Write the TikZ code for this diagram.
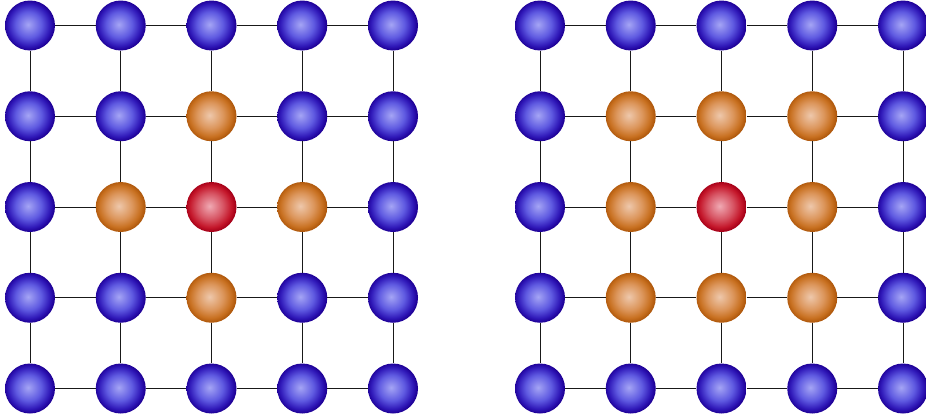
\documentclass[tikz,border=0pt]{standalone}
\definecolor{bc1}{RGB}{165,165,245}
\definecolor{bc2}{RGB}{95,90,225}
\definecolor{bc3}{RGB}{48,25,185}
\definecolor{bc4}{RGB}{30,0,150}
\definecolor{oc1}{RGB}{238,200,172}
\definecolor{oc2}{RGB}{220,150,92}
\definecolor{oc3}{RGB}{200,112,32}
\definecolor{oc4}{RGB}{175,88,12}
\definecolor{rc1}{RGB}{240,170,180}
\definecolor{rc2}{RGB}{215,85,100}
\definecolor{rc3}{RGB}{196,22,42}
\definecolor{rc4}{RGB}{165,0,24}
\pgfdeclareradialshading{bshade}{\pgfpoint{-2bp}{1bp}}{color(0bp)=(bc1); color(13bp)=(bc2); color(21bp)=(bc3); color(25bp)=(bc4); color(50bp)=(bc4)}
\pgfdeclareradialshading{oshade}{\pgfpoint{-2bp}{1bp}}{color(0bp)=(oc1); color(13bp)=(oc2); color(21bp)=(oc3); color(25bp)=(oc4); color(50bp)=(oc4)}
\pgfdeclareradialshading{rshade}{\pgfpoint{-2bp}{1bp}}{color(0bp)=(rc1); color(13bp)=(rc2); color(21bp)=(rc3); color(25bp)=(rc4); color(50bp)=(rc4)}
\tikzset{
  atom/.style={circle, minimum size=50pt, inner sep=0pt, shade},
  blueball/.style={atom, shading=bshade},
  orangeball/.style={atom, shading=oshade},
  redball/.style={atom, shading=rshade},
  bond/.style={draw=black!90, line width=1pt}
}
\begin{document}
\begin{tikzpicture}[x=1pt,y=-1pt]
\useasboundingbox (0,0) rectangle (926,415);
\foreach \i in {0,...,4}{
  \foreach \j in {0,...,4}{
    \pgfmathtruncatemacro{\dl}{abs(\i-2)+abs(\j-2)}
    \pgfmathtruncatemacro{\dr}{max(abs(\i-2),abs(\j-2))}
    \ifcase\dl \def\sl{redball}\or \def\sl{orangeball}\else \def\sl{blueball}\fi
    \ifcase\dr \def\sr{redball}\or \def\sr{orangeball}\else \def\sr{blueball}\fi
    \node[\sl] (L-\i-\j) at ({30+90.75*\j},{25.5+90.75*\i}) {};
    \node[\sr] (R-\i-\j) at ({540+90.75*\j},{25.5+90.75*\i}) {};
  }
}
\foreach \i in {0,...,4}{
  \foreach \j [evaluate=\j as \k using int(\j+1)] in {0,...,3}{
    \draw[bond] (L-\i-\j) -- (L-\i-\k);
    \draw[bond] (R-\i-\j) -- (R-\i-\k);
    \draw[bond] (L-\j-\i) -- (L-\k-\i);
    \draw[bond] (R-\j-\i) -- (R-\k-\i);
  }
}
\end{tikzpicture}
\end{document}
